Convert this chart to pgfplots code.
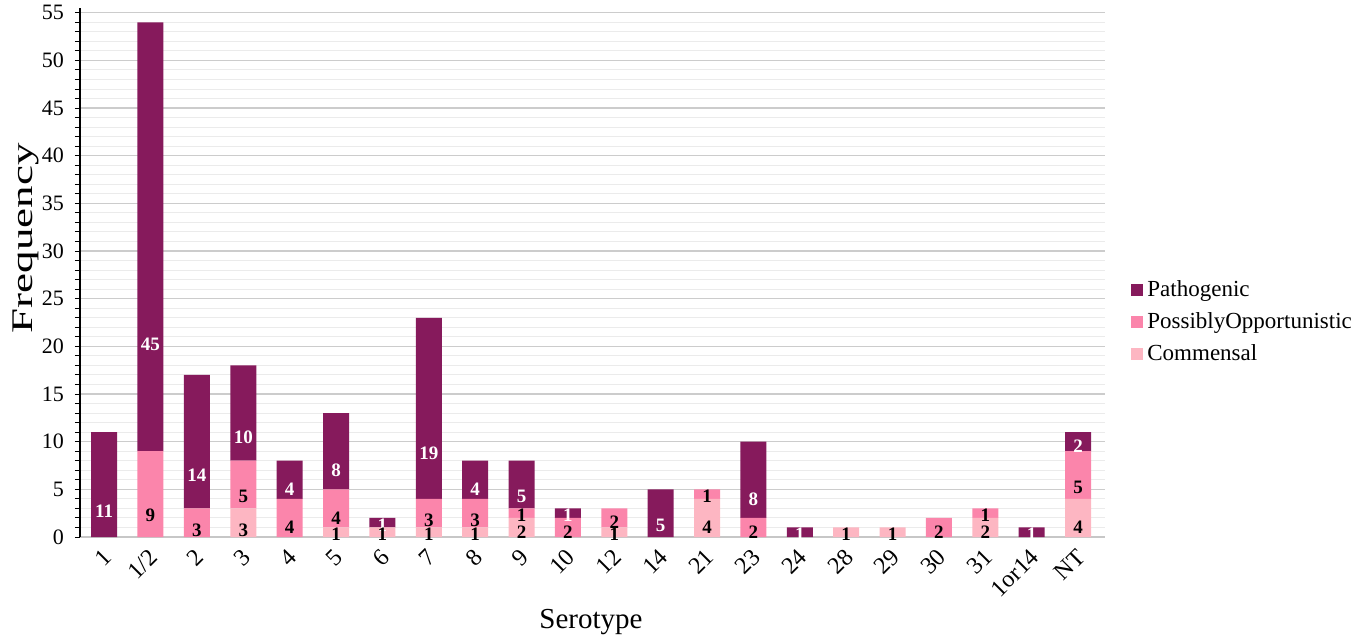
\documentclass[border=0pt]{standalone}
\usepackage{fontspec}
\setmainfont{Liberation Serif}
\usepackage{graphicx}
\usepackage{pgfplots}
\pgfplotsset{compat=1.18}
\usepackage{pgfplotstable}
\definecolor{patho}{RGB}{134,26,92}
\definecolor{possib}{RGB}{251,133,171}
\definecolor{comm}{RGB}{253,182,194}

\pgfplotstableread{
x com pos pat
0 0 0 11
1 0 9 45
2 0 3 14
3 3 5 10
4 0 4 4
5 1 4 8
6 1 0 1
7 1 3 19
8 1 3 4
9 2 1 5
10 0 2 1
11 1 2 0
12 0 0 5
13 4 1 0
14 0 2 8
15 0 0 1
16 1 0 0
17 1 0 0
18 0 2 0
19 2 1 0
20 0 0 1
21 4 5 2
}\data

\begin{document}
\begin{tikzpicture}
\begin{axis}[name=ax,
  scale only axis, width=512.5pt, height=264.5pt,
  ybar stacked, bar width=13pt,
  xmin=-0.52, xmax=21.58, ymin=0, ymax=55.5,
  xtick=data,
  xticklabels={1,1/2,2,3,4,5,6,7,8,9,10,12,14,21,23,24,28,29,30,31,1or14,NT},
  ytick={0,5,...,55}, minor y tick num=4,
  axis lines*=left,
  x axis line style={draw=black!22, line width=0.9pt},
  y axis line style={draw=black, line width=0.6pt},
  xtick style={draw=none},
  ytick style={draw=black, line width=0.5pt},
  tick align=outside, major tick length=2.5pt, minor tick length=2.5pt,
  ymajorgrids, yminorgrids,
  major grid style={draw=black!20, line width=0.6pt},
  minor grid style={draw=black!8, line width=0.5pt},
  /pgf/number format/assume math mode=true,
  yticklabel style={font=\fontsize{11}{13}\selectfont, xshift=-2pt},
  xticklabel style={font=\fontsize{12}{14}\selectfont, rotate=45, anchor=east, yshift=-5pt, xshift=0.5pt},
  xlabel={Serotype},
  xlabel style={font=\fontsize{14.5}{16}\selectfont, at={(axis description cs:0.4985,0)}, anchor=center, yshift=-42.5pt},
  ylabel={\scalebox{1.5}[1]{Frequency}},
  ylabel style={font=\fontsize{15}{16}\selectfont, at={(axis description cs:-0.0527,0.565)}, anchor=center},
  legend style={at={(axis description cs:1.0195,0.406)}, anchor=west, draw=none, fill=none,
    font=\fontsize{11.5}{13}\selectfont, row sep=2.5pt, cells={anchor=west}},
  legend image code/.code={\fill[#1] (0pt,-3pt) rectangle (6pt,3pt);},
  reverse legend,
  point meta=rawy,
  visualization depends on={rawy \as \rawy},
  nodes near coords={\pgfmathfloatifflags{\pgfplotspointmeta}{0}{}{\pgfmathprintnumber{\pgfplotspointmeta}}},
  nodes near coords style={anchor=center, yshift=-\rawy*1.1915pt, inner sep=0pt, font=\bfseries\fontsize{9.5}{9.5}\selectfont},
]
\addplot[fill=comm, draw=none] table[x=x, y=com] {\data};
\addlegendentry{Commensal}
\addplot[fill=possib, draw=none] table[x=x, y=pos] {\data};
\addlegendentry{PossiblyOpportunistic}
\addplot[fill=patho, draw=none, nodes near coords style={text=white}] table[x=x, y=pat] {\data};
\addlegendentry{Pathogenic}
\end{axis}
\pgfresetboundingbox
\path (ax.south west) ++(-40pt,-52.5pt) rectangle ++(682pt,321pt);
\end{tikzpicture}
\end{document}
